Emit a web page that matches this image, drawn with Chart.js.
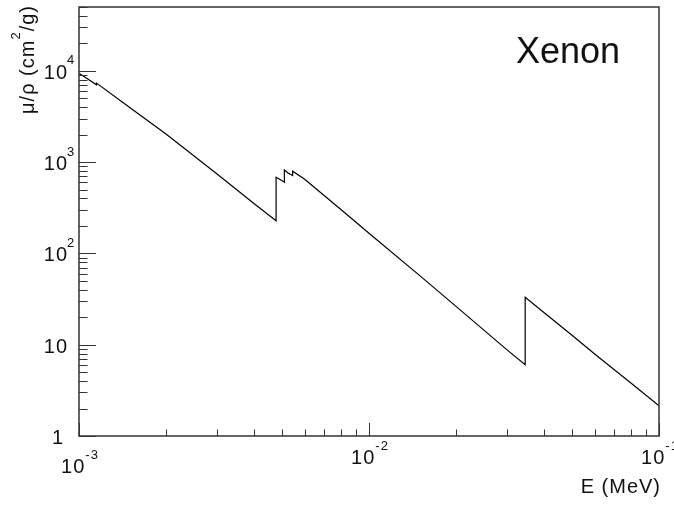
<!DOCTYPE html>
<html>
<head>
<meta charset="utf-8">
<title>Xenon</title>
<script src="https://cdn.jsdelivr.net/npm/chart.js@4/dist/chart.umd.min.js"></script>
<style>
  body { margin: 0; background: #fff; }
  canvas { display: block; }
</style>
</head>
<body>
<canvas id="muChart" width="674" height="505"></canvas>
<script>
// Mass attenuation coefficient of xenon (M, L and K edges appear as repeated energies)
let energy = [
    1.000e-3, 1.072e-3, 1.149e-3, 1.149e-3, 1.500e-3, 2.000e-3, 3.000e-3, 4.000e-3,
    4.782e-3, 4.782e-3, 4.935e-3, 5.107e-3, 5.107e-3, 5.275e-3, 5.453e-3, 5.453e-3,
    6.000e-3, 8.000e-3, 1.000e-2, 1.500e-2, 2.000e-2, 3.000e-2, 3.456e-2, 3.456e-2,
    4.000e-2, 5.000e-2, 6.000e-2, 8.000e-2, 1.000e-1
];
let muRho = [
    9413, 8151, 7035, 7338, 3934, 2023, 734.6, 354.3,
    227.8, 682.6, 646.6, 602, 820, 755, 712, 795,
    650, 302, 166, 56.7, 26.1, 8.73, 6.05, 33.0,
    22.7, 12.8, 7.9, 3.8, 2.14
];

// Labelled decades on each axis (exponent text, '' for a plain label)
let xTickValues = [1e-3, 1e-2, 1e-1];
let xTickExps = ['-3', '-2', '-1'];
let yTickValues = [1, 10, 100, 1000, 10000];
let yTickBase = ['1', '10', '10', '10', '10'];
let yTickExps = ['', '', '2', '3', '4'];

const FONT = '"Liberation Sans", Arial, sans-serif';

// draw text runs, some of them superscript
function drawRich(ctx, runs, x, y, size, align) {
    ctx.save();
    ctx.letterSpacing = '1px';
    let supSize = Math.round(size * 0.65);
    let width = 0;
    runs.forEach(r => {
        ctx.font = (r.sup ? supSize : size) + 'px ' + FONT;
        r.w = ctx.measureText(r.t).width;
        width += r.w;
    });
    let cx = x;
    if (align === 'right') cx = x - width;
    if (align === 'center') cx = x - width / 2;
    ctx.textAlign = 'left';
    ctx.textBaseline = 'alphabetic';
    runs.forEach(r => {
        ctx.font = (r.sup ? supSize : size) + 'px ' + FONT;
        ctx.fillText(r.t, cx, r.sup ? y - size * 0.72 : y);
        cx += r.w;
    });
    ctx.restore();
}

// frame, inward ticks and labels in the style of a ROOT canvas
const rootFrame = {
    id: 'rootFrame',
    afterDraw(chart) {
        let ctx = chart.ctx;
        let area = chart.chartArea;
        let xs = chart.scales.x;
        let ys = chart.scales.y;

        ctx.save();
        ctx.strokeStyle = '#333';
        ctx.lineWidth = 1;

        // x ticks
        ctx.beginPath();
        for (let d = -3; d < -1 + 1e-9; d++) {
            for (let m = 1; m <= 9; m++) {
                let v = m * Math.pow(10, d);
                if (v > xs.max * 1.0001) break;
                let px = Math.round(xs.getPixelForValue(v)) + 0.5;
                let len = m === 1 ? 13 : 6.5;
                ctx.moveTo(px, area.bottom);
                ctx.lineTo(px, area.bottom - len);
            }
        }
        // y ticks
        for (let d = 0; d <= 4; d++) {
            for (let m = 1; m <= 9; m++) {
                let v = m * Math.pow(10, d);
                if (v > ys.max * 1.0001) break;
                let py = Math.round(ys.getPixelForValue(v)) + 0.5;
                let len = m === 1 ? 17 : 8.5;
                ctx.moveTo(area.left, py);
                ctx.lineTo(area.left + len, py);
            }
        }
        ctx.stroke();

        ctx.lineWidth = 1.5;
        ctx.strokeRect(area.left, area.top, area.right - area.left, area.bottom - area.top);
        ctx.restore();

        ctx.fillStyle = '#111';
        // x labels (first one sits lower, clear of the y labels)
        xTickValues.forEach((v, i) => {
            let px = xs.getPixelForValue(v);
            let base = i === 0 ? 473 : 464;
            drawRich(ctx, [{ t: '10' }, { t: xTickExps[i], sup: true }], px + 1, base, 20, 'center');
        });
        // y labels
        yTickValues.forEach((v, i) => {
            let py = ys.getPixelForValue(v);
            let runs = [{ t: yTickBase[i] }];
            if (yTickExps[i]) {
                drawRich(ctx, runs, 68, py + 8, 20, 'right');
                drawRich(ctx, [{ t: yTickExps[i], sup: true }], 67, py + 8, 20, 'left');
            } else {
                drawRich(ctx, runs, i === 0 ? 64 : 68, py + 8, 20, 'right');
            }
        });

        // axis titles
        drawRich(ctx, [{ t: 'E (MeV)' }], 661, 493, 20, 'right');
        ctx.save();
        ctx.translate(34, 5);
        ctx.rotate(-Math.PI / 2);
        drawRich(ctx, [{ t: 'μ/ρ (cm' }, { t: '2', sup: true }, { t: '/g)' }], 0, 0, 20, 'right');
        ctx.restore();

        // element name
        ctx.save();
        ctx.fillStyle = '#111';
        ctx.font = '36px ' + FONT;
        ctx.textAlign = 'left';
        ctx.fillText('Xenon', 516, 63);
        ctx.restore();
    }
};

let points = energy.map((e, i) => ({ x: e, y: muRho[i] }));

new Chart(document.getElementById('muChart').getContext('2d'), {
    type: 'scatter',
    data: {
        datasets: [{
            data: points,
            showLine: true,
            borderColor: '#000',
            borderWidth: 1.2,
            pointRadius: 0,
            tension: 0,
            fill: false
        }]
    },
    options: {
        responsive: false,
        animation: false,
        layout: { padding: { left: 79, right: 15, top: 7, bottom: 69 } },
        scales: {
            x: { type: 'logarithmic', min: 1e-3, max: 1e-1, display: false },
            y: { type: 'logarithmic', min: 1, max: 5e4, display: false }
        },
        plugins: {
            legend: { display: false },
            tooltip: { enabled: false }
        }
    },
    plugins: [rootFrame]
});
</script>
</body>
</html>
